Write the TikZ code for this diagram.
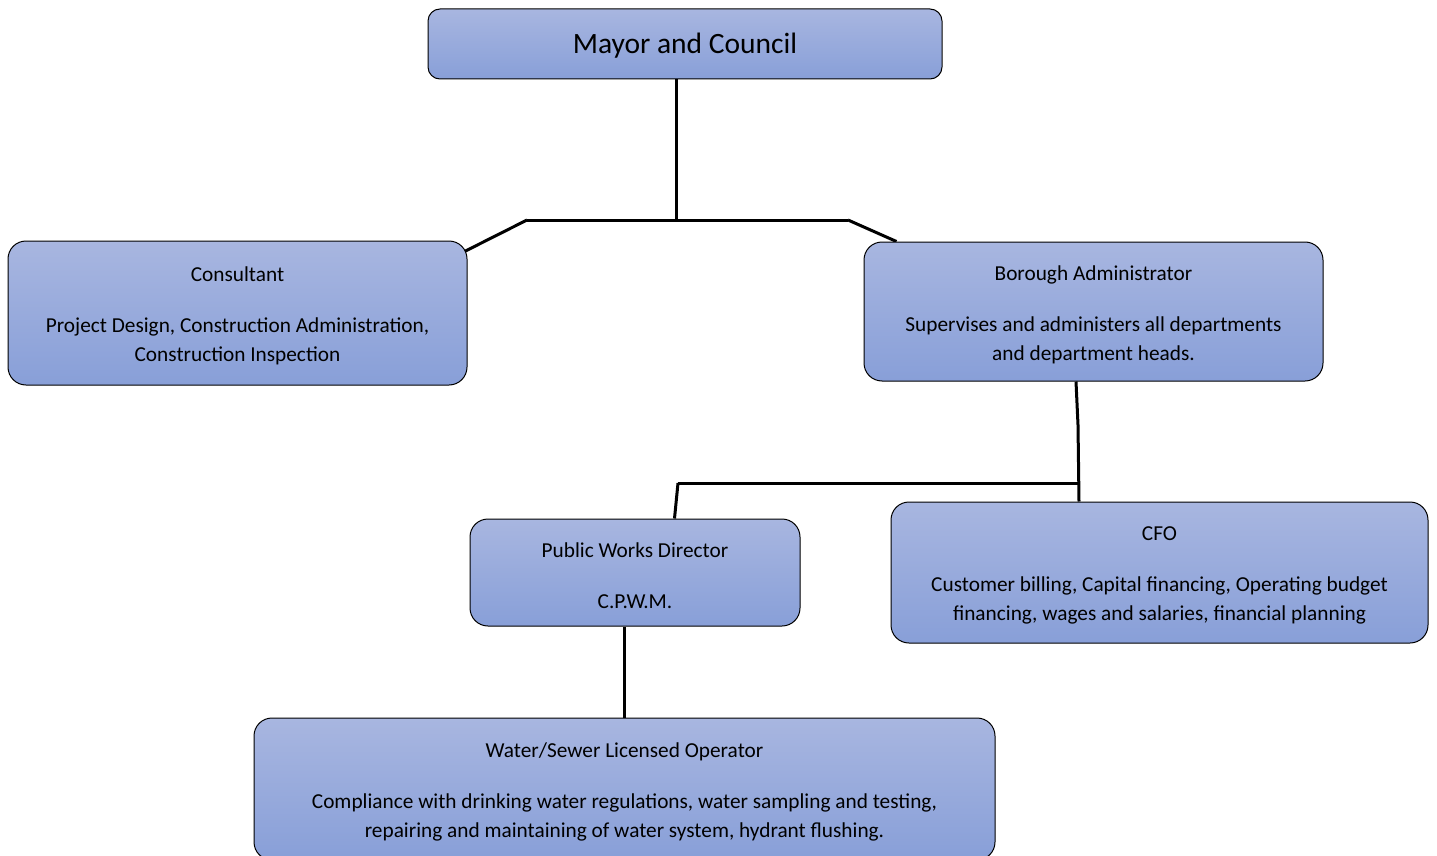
\documentclass[tikz,border=0pt]{standalone}
\usepackage{fontspec}
\setmainfont{Carlito}
\usetikzlibrary{calc,backgrounds}
\definecolor{boxtop}{RGB}{168,182,224}
\definecolor{boxbot}{RGB}{136,159,216}
\tikzset{
  box/.style={draw=black, line width=1pt, rounded corners=18pt, top color=boxtop, bottom color=boxbot,
    inner sep=0pt},
  txt/.style={align=center, inner sep=0pt, font=\fontsize{21.3}{29}\selectfont, yshift=-3pt},
  conn/.style={line width=3pt, black},
}
\begin{document}
\begin{tikzpicture}[x=1pt,y=-1pt]
\useasboundingbox (0,0) rectangle (1437,856);
\node[box, rounded corners=12pt, minimum width=514pt, minimum height=70pt,
  label={[txt, font=\fontsize{29.5}{32}\selectfont, yshift=1pt]center:Mayor and Council}] (mayor) at (685,44) {};
\node[box, minimum width=459pt, minimum height=144pt,
  label={[txt]center:{Consultant\\[22pt]Project Design, Construction Administration,\\Construction Inspection}}] (cons) at (237.5,313) {};
\node[box, minimum width=459pt, minimum height=139pt,
  label={[txt]center:{Borough Administrator\\[22pt]Supervises and administers all departments\\and department heads.}}] (bor) at (1093.5,311.5) {};
\node[box, minimum width=330pt, minimum height=107pt,
  label={[txt]center:{Public Works Director\\[22pt]C.P.W.M.}}] (pwd) at (635,572.5) {};
\node[box, minimum width=537pt, minimum height=141pt,
  label={[txt]center:{CFO\\[22pt]Customer billing, Capital financing, Operating budget\\financing, wages and salaries, financial planning}}] (cfo) at (1159.5,572.5) {};
\node[box, minimum width=741pt, minimum height=142pt,
  label={[txt]center:{Water/Sewer Licensed Operator\\[22pt]Compliance with drinking water regulations, water sampling and testing,\\repairing and maintaining of water system, hydrant flushing.}}] (water) at (624.5,789) {};
\coordinate (j1) at (676,220);
\coordinate (jl) at (527,220);
\coordinate (jr) at (848,220);
\coordinate (k1) at (1076,381);
\coordinate (k2) at (1078,425);
\coordinate (k3) at (1079,483);
\coordinate (kl) at (678,483);
\coordinate (p1) at (624,626);
\begin{scope}[on background layer]
\fill[white] (0,0) rectangle (1437,856);
\draw[conn] (j1 |- mayor.south) -- (j1);
\draw[conn] (jl) -- (jr);
\draw[conn] (jl) -- ($(cons.north east)+(-3,11)$);
\draw[conn] (jr) -- ($(bor.north west)+(33,0)$);
\draw[conn] (k1 |- bor.south) -- (k2) -- (k3 |- cfo.north);
\draw[conn] (kl) -- (k3);
\draw[conn] (kl) -- ($(pwd.north west)+(205,0)$);
\draw[conn] (p1 |- pwd.south) -- (p1 |- water.north);
\end{scope}
\end{tikzpicture}
\end{document}
